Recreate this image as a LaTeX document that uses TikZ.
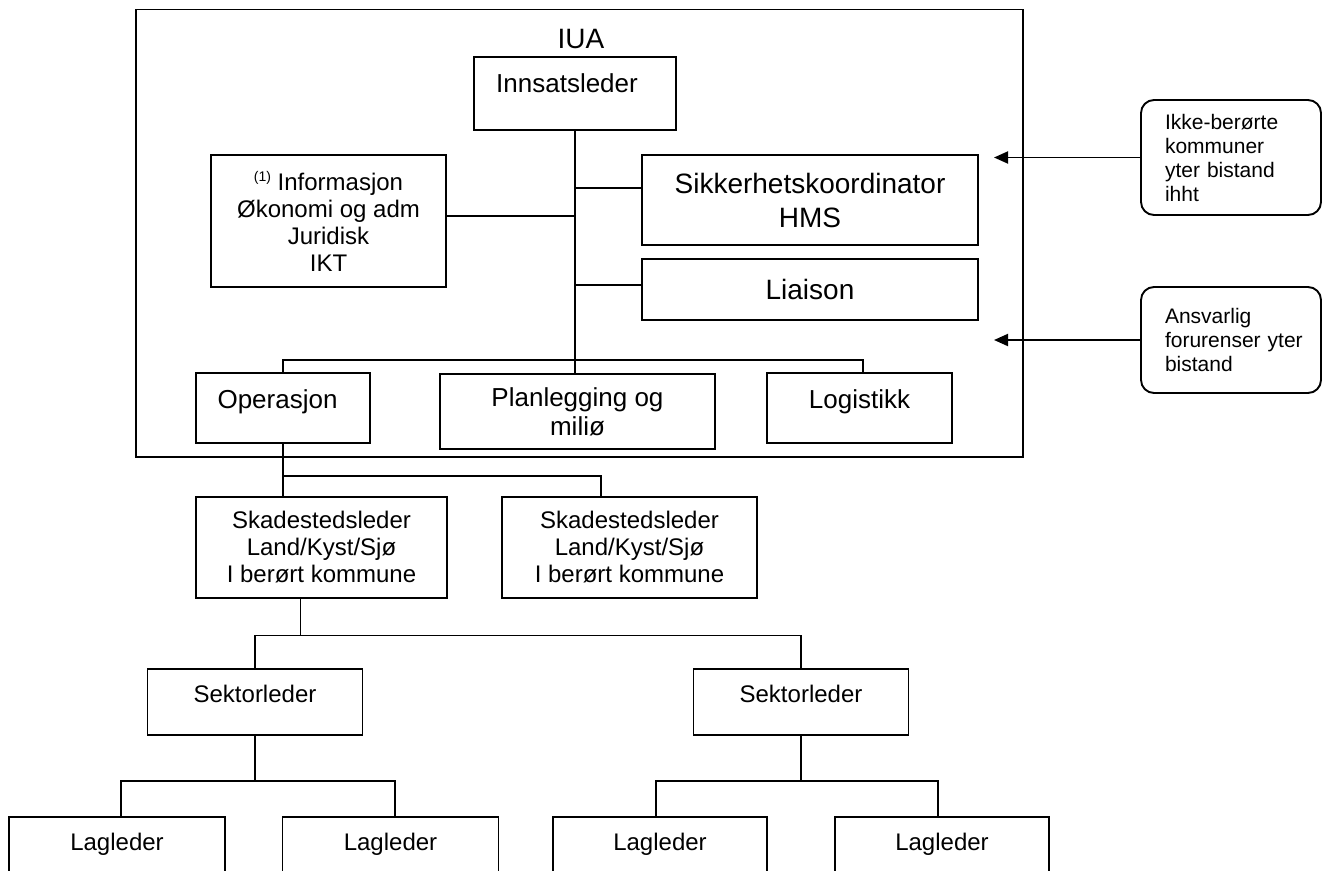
\documentclass[tikz,border=0pt]{standalone}
\usepackage{fontspec}
\setmainfont{Liberation Sans}
\usetikzlibrary{arrows.meta}
\begin{document}
\begin{tikzpicture}[x=1pt,y=-1pt,
  box/.style={draw, line width=1.9pt, inner sep=0pt, align=center},
  rbox/.style={box, rounded corners=13pt, align=left, text width=132pt},
  big/.style={font=\fontsize{28}{34}\selectfont},
  mid/.style={font=\fontsize{26}{29}\selectfont},
  sml/.style={font=\fontsize{24}{27}\selectfont},
  note/.style={font=\fontsize{21}{24}\selectfont},
  conn/.style={line width=1.9pt},
  topbox/.style={text height=19pt, text depth=19pt},
  tip/.style={-{Triangle[length=14pt,width=12pt]}}]
\path[use as bounding box] (0,0) rectangle (1329,870);
\clip (0,0) rectangle (1329,870);
% IUA frame
\node[box, minimum width=887pt, minimum height=447.5pt] (frame) at (579.5,233.25) {};
\node[big, anchor=base, inner sep=0pt] (iua) at (581,48) {IUA};
% top level
\node[box, mid, minimum width=202pt, minimum height=73pt, text height=19pt, text depth=22pt] (inn) at (575,93.5) {Innsatsleder\hspace*{16pt}};
\node[box, sml, minimum width=235pt, minimum height=132pt] (info) at (328.5,221)
  {\raisebox{9pt}{\fontsize{14}{14}\selectfont(1)} Informasjon\\Økonomi og adm\\Juridisk\\IKT};
\node[box, big, minimum width=336pt, minimum height=90pt] (sik) at (810,200) {Sikkerhetskoordinator\\HMS};
\node[box, big, minimum width=336pt, minimum height=61pt] (lia) at (810,289.5) {Liaison};
\node[box, mid, topbox, minimum width=174pt, minimum height=70pt] (ops) at (283,408) {Operasjon\hspace*{11pt}};
\node[box, mid, minimum width=275pt, minimum height=75pt] (pla) at (577.5,411.5) {Planlegging og\\miliø};
\node[box, mid, topbox, minimum width=185pt, minimum height=70pt] (log) at (859.5,408) {Logistikk};
% lower levels
\node[box, sml, minimum width=251pt, minimum height=101pt] (sk1) at (321.5,547.5) {Skadestedsleder\\Land/Kyst/Sjø\\I berørt kommune};
\node[box, sml, minimum width=255pt, minimum height=101pt] (sk2) at (629.5,547.5) {Skadestedsleder\\Land/Kyst/Sjø\\I berørt kommune};
\node[box, sml, topbox, minimum width=215pt, minimum height=66pt] (sek1) at (255,702) {Sektorleder};
\node[box, sml, topbox, minimum width=215pt, minimum height=66pt] (sek2) at (801,702) {Sektorleder};
\node[box, sml, topbox, minimum width=216pt, minimum height=66pt] (lag1) at (117,850) {Lagleder};
\node[box, sml, topbox, minimum width=216pt, minimum height=66pt] (lag2) at (390.5,850) {Lagleder};
\node[box, sml, topbox, minimum width=214pt, minimum height=66pt] (lag3) at (660,850) {Lagleder};
\node[box, sml, topbox, minimum width=214pt, minimum height=66pt] (lag4) at (942,850) {Lagleder};
% side notes
\node[rbox, note, minimum width=180pt, minimum height=115pt] (rb1) at (1231,157.5) {Ikke-berørte\\kommuner\\yter bistand\\ihht};
\node[rbox, note, minimum width=180pt, minimum height=106pt] (rb2) at (1231,340) {Ansvarlig\\\mbox{forurenser yter}\\bistand};
% helper coordinates
\coordinate (barY) at (0,360);
\coordinate (j1) at (0,476);
\coordinate (j2) at (0,635.5);
\coordinate (j3) at (0,781);
\coordinate (tipX) at (994,0);
\coordinate (logdrop) at ([xshift=3.5pt]log.north);
\coordinate (sk2drop) at ([xshift=-28.5pt]sk2.north);
\coordinate (sk1drop) at ([xshift=-21pt]sk1.south);
\coordinate (l1) at ([xshift=4pt]lag1.north);
\coordinate (l2) at ([xshift=4.5pt]lag2.north);
\coordinate (l3) at ([xshift=-4pt]lag3.north);
\coordinate (l4) at ([xshift=-4pt]lag4.north);
% connectors inside IUA
\draw[conn] (inn.south) -- (inn.south |- pla.north);
\draw[conn] ([yshift=12pt]sik.west) -- ([yshift=12pt]sik.west -| inn.south);
\draw[conn] ([yshift=5pt]info.east) -- ([yshift=5pt]info.east -| inn.south);
\draw[conn] ([yshift=4.5pt]lia.west) -- ([yshift=4.5pt]lia.west -| inn.south);
\draw[conn] (ops.north) -- (ops.north |- barY) -- (logdrop |- barY) -- (logdrop);
% lower connectors
\draw[conn] (ops.south) -- (ops.south |- sk1.north);
\draw[conn] (ops.south |- j1) -| (sk2drop);
\draw[conn] (sk1drop) -- (sk1drop |- j2);
\draw[conn] (sek1.north) -- (sek1.north |- j2) -- (sek2.north |- j2) -- (sek2.north);
\draw[conn] (sek1.south) -- (sek1.south |- j3);
\draw[conn] (l1) -- (l1 |- j3) -- (l2 |- j3) -- (l2);
\draw[conn] (sek2.south) -- (sek2.south |- j3);
\draw[conn] (l3) -- (l3 |- j3) -- (l4 |- j3) -- (l4);
% arrows
\draw[conn, tip] (rb1.west) -- (rb1.west -| tipX);
\draw[conn, tip] (rb2.west) -- (rb2.west -| tipX);
\end{tikzpicture}
\end{document}
